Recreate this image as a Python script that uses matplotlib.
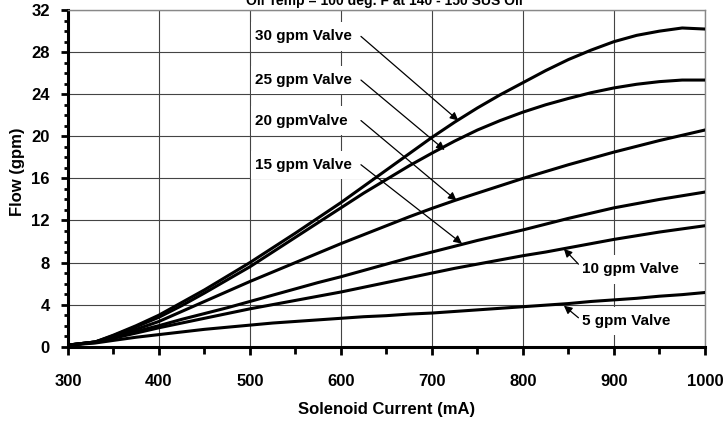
import matplotlib
matplotlib.use('Agg')
import matplotlib.pyplot as plt
from matplotlib.patches import Rectangle
from matplotlib.ticker import MultipleLocator

plt.rcParams['font.family'] = ['Liberation Sans', 'DejaVu Sans']
plt.rcParams['font.weight'] = 'bold'

# Solenoid current (mA)
current = [300, 330, 350, 375, 400, 425, 450, 475, 500, 525, 550, 575, 600, 625,
           650, 675, 700, 725, 750, 775, 800, 825, 850, 875, 900, 925, 950, 975, 1000]

# Flow (gpm) for each valve size
flow_30 = [0.15, 0.45, 1.1, 2.0, 3.0, 4.2, 5.4, 6.7, 8.0, 9.4, 10.8, 12.25, 13.7, 15.25,
           16.8, 18.35, 19.9, 21.35, 22.7, 23.95, 25.1, 26.25, 27.3, 28.2, 29.0, 29.6, 30.0, 30.3, 30.2]
flow_25 = [0.15, 0.45, 1.05, 1.9, 2.8, 3.9, 5.1, 6.35, 7.6, 9.0, 10.4, 11.8, 13.2, 14.6,
           15.9, 17.2, 18.4, 19.55, 20.6, 21.5, 22.3, 23.0, 23.6, 24.15, 24.6, 24.95, 25.2, 25.35, 25.35]
flow_20 = [0.15, 0.45, 0.95, 1.65, 2.4, 3.35, 4.3, 5.25, 6.2, 7.1, 8.0, 8.9, 9.8, 10.65,
           11.5, 12.35, 13.15, 13.9, 14.6, 15.3, 16.0, 16.65, 17.3, 17.9, 18.5, 19.05, 19.6, 20.1, 20.6]
flow_15 = [0.15, 0.45, 0.85, 1.45, 2.0, 2.6, 3.15, 3.7, 4.3, 4.9, 5.5, 6.1, 6.65, 7.25,
           7.85, 8.45, 9.0, 9.55, 10.1, 10.6, 11.1, 11.65, 12.2, 12.7, 13.2, 13.6, 14.0, 14.35, 14.7]
flow_10 = [0.15, 0.4, 0.8, 1.3, 1.8, 2.25, 2.7, 3.15, 3.6, 4.0, 4.4, 4.8, 5.2, 5.65,
           6.1, 6.55, 7.0, 7.45, 7.85, 8.25, 8.65, 9.0, 9.4, 9.8, 10.2, 10.55, 10.9, 11.2, 11.5]
flow_5 = [0.15, 0.35, 0.6, 0.9, 1.15, 1.4, 1.65, 1.85, 2.05, 2.25, 2.4, 2.55, 2.7, 2.85,
          2.95, 3.1, 3.2, 3.35, 3.5, 3.65, 3.8, 3.95, 4.1, 4.3, 4.45, 4.6, 4.8, 4.95, 5.15]

series = [flow_30, flow_25, flow_20, flow_15, flow_10, flow_5]

# label text, text anchor, arrow start, arrow tip (data units)
labels = [
    ('30 gpm Valve', (505, 29.5), (622, 29.5), (729, 21.5)),
    ('25 gpm Valve', (505, 25.35), (622, 25.35), (714, 18.7)),
    ('20 gpmValve', (505, 21.5), (622, 21.5), (727, 13.9)),
    ('15 gpm Valve', (505, 17.3), (622, 17.3), (733, 9.8)),
    ('10 gpm Valve', (865, 7.35), (861, 7.85), (845, 9.3)),
    ('5 gpm Valve', (865, 2.45), (861, 2.75), (845, 3.9)),
]

fig = plt.figure(figsize=(7.23, 4.21), dpi=100)
ax = fig.add_axes([0.094, 0.1765, 0.881, 0.7995])

for f in series:
    ax.plot(current, f, color='black', lw=2.2, zorder=4)

for text, (tx, ty), start, tip in labels:
    # white text box hides the grid behind the label
    ax.add_patch(Rectangle((tx - 4, ty - 1.35), 133, 2.7, facecolor='white',
                           edgecolor='none', zorder=2))
    ax.text(tx, ty, text, fontsize=11, fontweight='bold', ha='left',
            va='center', zorder=3)
    ax.annotate('', xy=tip, xytext=start,
                arrowprops=dict(arrowstyle='-|>', lw=0.9, color='black',
                                mutation_scale=12, shrinkA=0, shrinkB=0),
                zorder=5)

ax.set_xlim(300, 1000)
ax.set_ylim(0, 32)
ax.xaxis.set_major_locator(MultipleLocator(100))
ax.xaxis.set_minor_locator(MultipleLocator(50))
ax.yaxis.set_major_locator(MultipleLocator(4))
ax.yaxis.set_minor_locator(MultipleLocator(1))

ax.grid(True, which='major', color='#444444', lw=0.8, zorder=1)
ax.set_axisbelow(True)

for side in ['left', 'bottom']:
    ax.spines[side].set_linewidth(2.2)
    ax.spines[side].set_color('black')
for side in ['top', 'right']:
    ax.spines[side].set_linewidth(1.0)
    ax.spines[side].set_color('#888888')

ax.tick_params(axis='x', which='major', direction='out', length=6, width=2,
               pad=14, labelsize=12)
ax.tick_params(axis='x', which='minor', direction='out', length=5, width=2)
ax.tick_params(axis='y', which='major', direction='out', length=5, width=2,
               pad=8, labelsize=12)
ax.tick_params(axis='y', which='minor', direction='out', length=3, width=2)
for lab in ax.get_xticklabels() + ax.get_yticklabels():
    lab.set_fontweight('bold')

ax.set_xlabel('Solenoid Current (mA)', fontsize=12, fontweight='bold')
ax.set_ylabel('Flow (gpm)', fontsize=12, fontweight='bold')
ax.xaxis.set_label_coords(0.5, -0.165)
ax.xaxis.label.set_va('top')
ax.yaxis.set_label_coords(-0.068, 0.52)

fig.text(0.532, 0.988, 'Oil Temp = 100 deg. F at 140 - 150 SUS Oil',
         fontsize=10, fontweight='bold', ha='center', va='baseline')

fig.savefig('out.png', dpi=100)
